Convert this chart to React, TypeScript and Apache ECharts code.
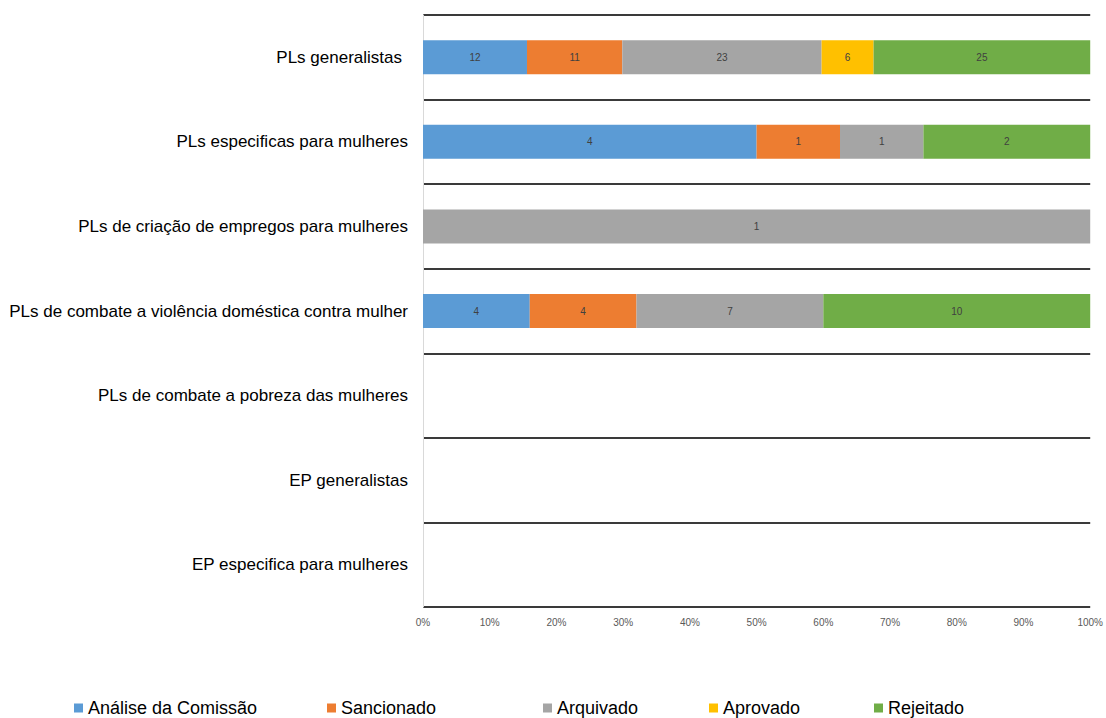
import React, { useEffect, useRef } from "react";
import * as echarts from "echarts";

const categories = [
  "PLs generalistas",
  "PLs especificas para mulheres",
  "PLs de criação de empregos para mulheres",
  "PLs de combate a violência doméstica contra mulher",
  "PLs de combate a pobreza das mulheres",
  "EP generalistas",
  "EP especifica para mulheres",
];

const seriesNames = ["Análise da Comissão", "Sancionado", "Arquivado", "Aprovado", "Rejeitado"];
const analise = [12, 4, 0, 4, 0, 0, 0];
const sancionado = [11, 1, 0, 4, 0, 0, 0];
const arquivado = [23, 1, 1, 7, 0, 0, 0];
const aprovado = [6, 0, 0, 0, 0, 0, 0];
const rejeitado = [25, 2, 0, 10, 0, 0, 0];
const xTicks = [0, 10, 20, 30, 40, 50, 60, 70, 80, 90, 100];

const colors = ["#5b9bd5", "#ed7d31", "#a5a5a5", "#ffc000", "#70ad47"];
const legendLeft = [69, 322, 538, 704, 869];

export default function App() {
  const ref = useRef<HTMLDivElement>(null);
  useEffect(() => {
    if (!ref.current) return;
    const chart = echarts.init(ref.current, undefined, { renderer: "svg" });
    const all = [analise, sancionado, arquivado, aprovado, rejeitado];
    const totals = categories.map((_, i) => all.reduce((s, a) => s + a[i], 0));
    const series = all.map((arr, si) => ({
      name: seriesNames[si],
      type: "bar",
      stack: "total",
      barWidth: 34,
      itemStyle: { color: colors[si] },
      label: {
        show: true,
        position: "inside",
        fontFamily: "Liberation Sans",
        fontSize: 10,
        color: "#404040",
        formatter: (p: any) => (p.data && p.data.raw ? String(p.data.raw) : ""),
      },
      data: arr.map((v, i) => ({
        value: totals[i] ? (v / totals[i]) * 100 : 0,
        raw: v,
      })),
    }));
    chart.setOption({
      animation: false,
      textStyle: { fontFamily: "Liberation Sans" },
      grid: { left: 423, right: 15, top: 15, bottom: 111, containLabel: false },
      legend: seriesNames.map((n, i) => ({
        data: [n],
        left: legendLeft[i],
        top: 694,
        itemWidth: 9,
        itemHeight: 9,
        itemGap: 5,
        icon: "rect",
        textStyle: { fontSize: 18, color: "#000", fontFamily: "Liberation Sans" },
        selectedMode: false,
      })),
      xAxis: {
        type: "value",
        min: 0,
        max: 100,
        interval: 10,
        axisLine: { show: false },
        axisTick: { show: false },
        splitLine: { show: false },
        axisLabel: {
          formatter: (v: number) => (xTicks.includes(v) ? v + "%" : ""),
          fontSize: 10,
          color: "#595959",
          margin: 10,
        },
      },
      yAxis: {
        type: "category",
        inverse: true,
        data: categories,
        axisLine: { show: true, lineStyle: { color: "#d9d9d9", width: 1 } },
        axisTick: { show: false },
        splitLine: { show: true, lineStyle: { color: "#3a3a3a", width: 2 } },
        axisLabel: {
          fontSize: 17,
          color: "#000",
          margin: 15,
          formatter: (v: string, idx: number) => (idx === 0 ? "{g|" + v + "}" : v),
          rich: { g: { fontSize: 17, color: "#000", padding: [0, 6, 0, 0] } },
        },
      },
      series,
    });
    return () => chart.dispose();
  }, []);
  return (
    <div
      ref={ref}
      style={{ position: "fixed", left: 0, top: 0, width: 1106, height: 718, background: "#fff" }}
    />
  );
}
